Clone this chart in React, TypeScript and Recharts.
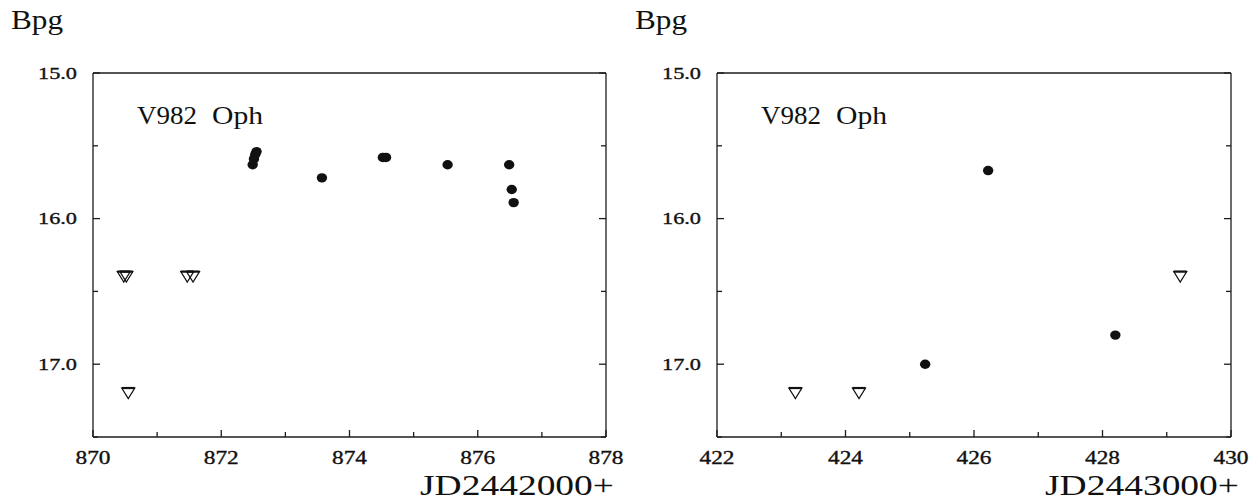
import React from 'react';
import { ScatterChart, Scatter, XAxis, YAxis } from 'recharts';

// Bpg photometry of V982 Oph, two observing runs (JD offsets)
const runOneDots = [
  { jd: 872.49, mag: 15.63 },
  { jd: 872.51, mag: 15.59 },
  { jd: 872.53, mag: 15.56 },
  { jd: 872.55, mag: 15.54 },
  { jd: 873.57, mag: 15.72 },
  { jd: 874.52, mag: 15.58 },
  { jd: 874.57, mag: 15.58 },
  { jd: 875.53, mag: 15.63 },
  { jd: 876.49, mag: 15.63 },
  { jd: 876.53, mag: 15.80 },
  { jd: 876.56, mag: 15.89 },
];

// upper limits (fainter than), drawn as open triangles
const runOneLimits = [
  { jd: 870.48, mag: 16.4 },
  { jd: 870.52, mag: 16.4 },
  { jd: 871.47, mag: 16.4 },
  { jd: 871.56, mag: 16.4 },
  { jd: 870.55, mag: 17.2 },
];

const runTwoDots = [
  { jd: 425.24, mag: 17.0 },
  { jd: 426.22, mag: 15.67 },
  { jd: 428.2, mag: 16.8 },
];

const runTwoLimits = [
  { jd: 423.22, mag: 17.2 },
  { jd: 424.21, mag: 17.2 },
  { jd: 429.21, mag: 16.4 },
];

const runOneTicks = [870, 871, 872, 873, 874, 875, 876, 877, 878];
const runTwoTicks = [422, 423, 424, 425, 426, 427, 428, 429, 430];
const magTicks = [15, 15.5, 16, 16.5, 17, 17.5];
const magLabels = [15, 16, 17];

const CHART_W = 629;
const CHART_H = 501;
const TOP = 73;
const BOTTOM = 437;
const INK = '#1c1c1c';
const FONT = '"Liberation Serif", "DejaVu Serif", serif';

const renderDot = (p: any) => (
  <ellipse cx={p.cx} cy={p.cy} rx={5.2} ry={4.7} fill="#111" />
);

const renderLimit = (p: any) => {
  const { cx, cy } = p;
  return (
    <g>
      <path
        d={`M${cx - 6.5},${cy - 5.3} L${cx + 6.5},${cy - 5.3} L${cx},${cy + 5.3} Z`}
        fill="none"
        stroke="#111"
        strokeWidth={1.2}
      />
      <line x1={cx - 6.5} x2={cx + 6.5} y1={cy - 5.3} y2={cy - 5.3} stroke="#111" strokeWidth={2.2} />
    </g>
  );
};

const BottomTick = (props: any) => {
  const { x, y, payload } = props;
  const v = payload.value;
  const major = v % 2 === 0;
  return (
    <g>
      <line x1={x} x2={x} y1={y} y2={y - (major ? 7 : 5)} stroke={INK} strokeWidth={1.3} />
      {major && (
        <text
          x={x}
          y={y + 27}
          textAnchor="middle"
          fontSize={18}
          fontFamily={FONT}
          fill="#111"
          stroke="#111"
          strokeWidth={0.35}
          textLength={35}
          lengthAdjust="spacingAndGlyphs"
        >
          {v}
        </text>
      )}
    </g>
  );
};

const TopTick = (props: any) => {
  const { x, y, payload } = props;
  const major = payload.value % 2 === 0;
  return <line x1={x} x2={x} y1={y} y2={y + (major ? 7 : 5)} stroke={INK} strokeWidth={1.3} />;
};

const LeftTick = (props: any) => {
  const { x, y, payload } = props;
  const v = payload.value;
  const major = Number.isInteger(v);
  return (
    <g>
      <line x1={x} x2={x + (major ? 7 : 5)} y1={y} y2={y} stroke={INK} strokeWidth={1.3} />
      {magLabels.includes(v) && (
        <text
          x={x - 16}
          y={y + 5.5}
          textAnchor="end"
          fontSize={17}
          fontFamily={FONT}
          fill="#111"
          stroke="#111"
          strokeWidth={0.35}
          textLength={39}
          lengthAdjust="spacingAndGlyphs"
        >
          {v.toFixed(1)}
        </text>
      )}
    </g>
  );
};

const RightTick = (props: any) => {
  const { x, y, payload } = props;
  const major = Number.isInteger(payload.value);
  return <line x1={x} x2={x - (major ? 7 : 5)} y1={y} y2={y} stroke={INK} strokeWidth={1.3} />;
};

interface PanelProps {
  dots: { jd: number; mag: number }[];
  limits: { jd: number; mag: number }[];
  xTicks: number[];
  jdLabel: string;
  left: number;
  right: number;
}

function Panel({ dots, limits, xTicks, jdLabel, left, right }: PanelProps) {
  const xDomain = [xTicks[0], xTicks[xTicks.length - 1]];
  const axisLine = { stroke: INK, strokeWidth: 1.3 };
  // axes are 1px thick so they still render; margins take that pixel back
  const common = {
    type: 'number' as const,
    interval: 0,
    allowDataOverflow: true,
    tickSize: 0,
    tickMargin: 0,
    tickLine: false,
    axisLine,
  };
  const textProps = { fontFamily: FONT, fill: '#111', lengthAdjust: 'spacingAndGlyphs' };
  return (
    <ScatterChart
      width={CHART_W}
      height={CHART_H}
      margin={{ top: TOP - 1, right: CHART_W - right - 1, bottom: CHART_H - BOTTOM - 1, left: left - 1 }}
    >
      <XAxis xAxisId="b" dataKey="jd" domain={xDomain} ticks={xTicks} height={1} tick={BottomTick} {...common} />
      <XAxis xAxisId="t" orientation="top" domain={xDomain} ticks={xTicks} height={1} tick={TopTick} {...common} />
      <YAxis
        yAxisId="l"
        dataKey="mag"
        domain={[15, 17.5]}
        reversed
        ticks={magTicks}
        width={1}
        tick={LeftTick}
        {...common}
      />
      <YAxis
        yAxisId="r"
        orientation="right"
        domain={[15, 17.5]}
        reversed
        ticks={magTicks}
        width={1}
        tick={RightTick}
        {...common}
      />
      <Scatter data={dots} xAxisId="b" yAxisId="l" isAnimationActive={false} shape={renderDot} />
      <Scatter data={limits} xAxisId="b" yAxisId="l" isAnimationActive={false} shape={renderLimit} />
      <text x={left - 82} y={29} fontSize={27} textLength={52} {...textProps}>
        Bpg
      </text>
      <text x={left + 44} y={124} fontSize={25} textLength={60} {...textProps}>
        V982
      </text>
      <text x={left + 119} y={124} fontSize={25} textLength={51} {...textProps}>
        Oph
      </text>
      <text x={right + 8} y={495} textAnchor="end" fontSize={30} textLength={194} {...textProps}>
        {jdLabel}
      </text>
    </ScatterChart>
  );
}

export default function App() {
  return (
    <div
      style={{
        position: 'absolute',
        left: 0,
        top: 0,
        width: 1258,
        height: 501,
        background: '#fff',
        display: 'flex',
      }}
    >
      <Panel dots={runOneDots} limits={runOneLimits} xTicks={runOneTicks} jdLabel="JD2442000+" left={93} right={606} />
      <Panel dots={runTwoDots} limits={runTwoLimits} xTicks={runTwoTicks} jdLabel="JD2443000+" left={88} right={602} />
    </div>
  );
}
